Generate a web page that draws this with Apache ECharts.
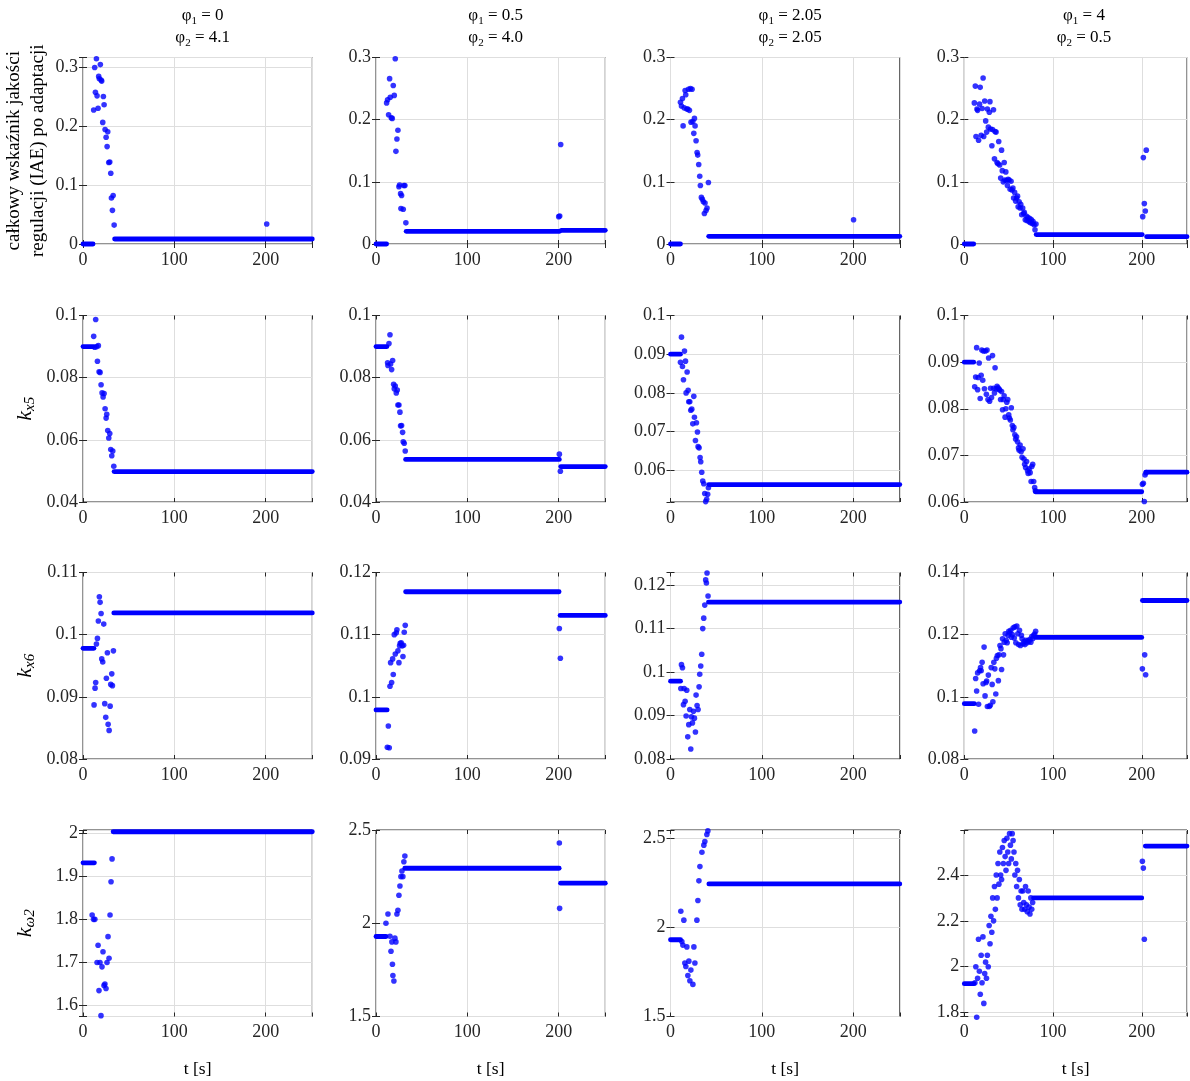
<!DOCTYPE html>
<html><head><meta charset="utf-8">
<script src="https://cdn.jsdelivr.net/npm/echarts@6/dist/echarts.min.js"></script>
<style>html,body{margin:0;padding:0;background:#fff}#c{width:1190px;height:1081px}</style>
</head><body><div id="c"></div><script>
// ---------- column parameters ----------
const phi1 = ['0', '0.5', '2.05', '4'];
const phi2 = ['4.1', '4.0', '2.05', '0.5'];
const xRange = [0, 251, 100];   // min, max, tick step
const xTicks = [0, 100, 200];

// ---------- y ranges [min, max, tick step] ----------
const yIAE = [[0, 0.316, 0.1], [0, 0.3, 0.1], [0, 0.3, 0.1], [0, 0.3, 0.1]];
const yKx5 = [[0.04, 0.1, 0.02], [0.04, 0.1, 0.02], [0.0518, 0.1, 0.01], [0.06, 0.1, 0.01]];
const yKx6 = [[0.08, 0.11, 0.01], [0.09, 0.12, 0.01], [0.08, 0.1229, 0.01], [0.08, 0.14, 0.02]];
const yKw2 = [[1.575, 2.007, 0.1], [1.5, 2.5, 0.5], [1.5, 2.545, 0.5], [1.783, 2.596, 0.2]];

// ---------- IAE: scattered points [t, value] and constant runs [t0, t1, value] ----------
const iae1 = [[11.7,0.227],[12.8,0.299],[13.6,0.257],[14.7,0.314],[15.4,0.251],[16.5,0.230],[17.2,0.284],[17.9,0.280],[19.0,0.304],[19.8,0.278],[20.5,0.276],[21.6,0.206],[22.3,0.250],[23.1,0.236],[24.2,0.194],[25.3,0.181],[26.4,0.165],[27.1,0.190],[28.2,0.138],[29.3,0.139],[30.4,0.120],[31.1,0.078],[32.2,0.057],[33.0,0.082],[34.1,0.032],[201.1,0.034]];
const iae1Flat = [[0,11,0],[34.6,251,0.0085]];
const iae2 = [[11.6,0.227],[12.7,0.232],[13.8,0.208],[14.9,0.266],[15.6,0.236],[16.7,0.203],[17.8,0.202],[18.9,0.255],[20.0,0.239],[21.1,0.298],[21.8,0.149],[22.9,0.169],[24.0,0.183],[25.1,0.092],[25.8,0.095],[26.9,0.081],[27.3,0.057],[28.0,0.078],[29.8,0.056],[30.5,0.094],[31.6,0.094],[32.7,0.034],[200.0,0.044],[201.1,0.045],[202.2,0.160]];
const iae2Flat = [[0,11.6,0],[33,201,0.0204],[202.9,251,0.022]];
const iae3 = [[10.9,0.228],[12.0,0.222],[13.1,0.234],[13.8,0.190],[14.9,0.219],[16.0,0.247],[16.7,0.240],[17.8,0.217],[18.9,0.217],[19.6,0.249],[20.7,0.215],[21.8,0.250],[22.5,0.196],[23.6,0.249],[24.4,0.197],[25.5,0.178],[26.2,0.202],[26.9,0.190],[28.0,0.166],[29.1,0.147],[29.8,0.143],[30.9,0.128],[32.0,0.109],[32.7,0.094],[33.8,0.075],[34.9,0.072],[36.0,0.068],[37.1,0.049],[37.8,0.066],[38.9,0.054],[40.0,0.058],[41.5,0.099],[200.4,0.039]];
const iae3Flat = [[0,10.9,0],[41.8,251,0.0124]];
const iae4 = [[11.3,0.227],[12.4,0.254],[13.2,0.173],[14.3,0.217],[15.0,0.215],[16.1,0.167],[17.2,0.225],[17.9,0.252],[19.0,0.175],[20.1,0.218],[21.2,0.267],[21.9,0.173],[23.0,0.230],[24.1,0.198],[25.2,0.180],[26.0,0.217],[27.1,0.188],[28.2,0.212],[28.9,0.229],[29.6,0.185],[31.1,0.158],[31.8,0.184],[32.9,0.216],[34.0,0.137],[34.7,0.181],[35.8,0.180],[36.9,0.131],[38.0,0.129],[38.8,0.165],[39.9,0.127],[41.0,0.106],[42.0,0.151],[42.8,0.118],[43.9,0.100],[45.0,0.131],[45.7,0.103],[46.8,0.116],[47.5,0.102],[48.6,0.094],[49.4,0.104],[50.5,0.103],[51.6,0.088],[52.7,0.101],[53.7,0.087],[54.8,0.090],[55.6,0.074],[56.7,0.083],[57.8,0.069],[58.9,0.074],[60.0,0.077],[60.7,0.060],[61.8,0.068],[62.9,0.058],[63.6,0.064],[64.7,0.047],[65.8,0.058],[66.9,0.049],[67.6,0.051],[68.7,0.039],[69.8,0.045],[70.6,0.038],[71.7,0.043],[72.8,0.036],[73.9,0.041],[74.6,0.034],[75.7,0.039],[76.8,0.033],[77.5,0.036],[78.6,0.031],[79.7,0.023],[80.8,0.032],[201.1,0.044],[201.8,0.139],[202.9,0.065],[204.0,0.053],[205.1,0.151]];
const iae4Flat = [[0,10.6,0],[81,200.5,0.0151],[205.5,251,0.0118]];

// ---------- k_x5 ----------
const kx5_1 = [[11.7,0.0933],[12.8,0.0898],[13.9,0.0987],[15.0,0.0900],[15.8,0.0853],[16.8,0.0903],[17.6,0.0819],[18.7,0.0817],[19.8,0.0777],[20.9,0.0751],[22.0,0.0738],[23.1,0.0749],[24.2,0.0700],[25.3,0.0670],[26.0,0.0682],[27.1,0.0630],[28.2,0.0606],[29.3,0.0620],[30.4,0.0569],[31.5,0.0549],[32.6,0.0564],[33.7,0.0515]];
const kx5_1Flat = [[0,11.3,0.0900],[34,251,0.0498]];
const kx5_2 = [[12.7,0.0848],[13.1,0.0839],[14.2,0.0910],[15.3,0.0938],[16.0,0.0844],[17.1,0.0826],[18.2,0.0855],[19.3,0.0779],[20.0,0.0764],[21.1,0.0773],[22.2,0.0751],[23.3,0.0760],[24.0,0.0712],[25.1,0.0712],[26.2,0.0689],[26.9,0.0645],[28.0,0.0646],[29.1,0.0624],[29.8,0.0594],[30.9,0.0589],[32.0,0.0564],[200.7,0.0554],[201.8,0.0499]];
const kx5_2Flat = [[0,12,0.0900],[32.4,200.7,0.0537],[202.2,251,0.0514]];
const kx5_3 = [[10.9,0.0879],[12.0,0.0944],[13.1,0.0868],[14.2,0.0834],[15.3,0.0908],[16.4,0.0882],[17.1,0.0800],[18.2,0.0854],[19.3,0.0807],[20.0,0.0777],[21.1,0.0777],[22.2,0.0755],[23.3,0.0758],[24.4,0.0720],[25.5,0.0791],[26.2,0.0737],[27.3,0.0677],[28.4,0.0723],[29.5,0.0699],[30.2,0.0661],[31.3,0.0658],[32.4,0.0633],[33.1,0.0622],[34.2,0.0595],[35.3,0.0572],[36.4,0.0565],[37.5,0.0540],[38.5,0.0519],[39.6,0.0525],[40.7,0.0538],[41.5,0.0555]];
const kx5_3Flat = [[0,10.9,0.0900],[41.8,251,0.0563]];
const kx5_4 = [[11.7,0.0847],[12.8,0.0868],[13.9,0.0931],[15.0,0.0841],[15.7,0.0867],[16.8,0.0898],[17.9,0.0822],[19.0,0.0872],[19.7,0.0926],[20.8,0.0861],[21.6,0.0924],[22.7,0.0843],[23.8,0.0924],[24.9,0.0831],[25.6,0.0926],[26.7,0.0820],[27.4,0.0909],[28.5,0.0816],[29.6,0.0844],[30.7,0.0824],[31.8,0.0914],[32.9,0.0844],[34.0,0.0834],[34.7,0.0888],[35.8,0.0843],[36.9,0.0848],[38.0,0.0845],[39.1,0.0842],[39.9,0.0840],[40.9,0.0820],[42.0,0.0837],[43.1,0.0798],[43.8,0.0820],[44.9,0.0828],[46.0,0.0782],[46.8,0.0800],[47.9,0.0814],[49.0,0.0820],[50.1,0.0787],[50.8,0.0780],[51.9,0.0776],[53.0,0.0802],[54.1,0.0764],[54.8,0.0755],[55.9,0.0760],[57.0,0.0744],[57.8,0.0735],[58.9,0.0740],[60.0,0.0729],[61.1,0.0716],[61.8,0.0711],[62.9,0.0722],[64.0,0.0708],[65.1,0.0696],[66.2,0.0714],[67.3,0.0692],[68.0,0.0681],[69.1,0.0674],[70.2,0.0687],[71.3,0.0667],[72.0,0.0661],[73.1,0.0671],[74.2,0.0663],[75.3,0.0644],[76.1,0.0676],[77.1,0.0681],[78.2,0.0644],[79.3,0.0631],[80.1,0.0624],[200.7,0.0638],[201.8,0.0640],[202.9,0.0601],[203.7,0.0658],[204.8,0.0663]];
const kx5_4Flat = [[0,10.6,0.0900],[80.1,200,0.0622],[204.8,251,0.0664]];

// ---------- k_x6 ----------
const kx6_1 = [[12.1,0.0887],[13.2,0.0914],[13.9,0.0923],[14.7,0.0985],[15.8,0.0994],[16.8,0.1022],[17.9,0.1061],[18.7,0.1052],[19.8,0.1034],[20.5,0.0961],[21.6,0.0956],[22.7,0.1017],[23.8,0.0889],[24.9,0.0867],[25.6,0.0930],[26.7,0.0971],[27.5,0.0856],[28.6,0.0846],[29.7,0.0885],[30.4,0.0920],[31.5,0.0937],[32.2,0.0918],[33.3,0.0974]];
const kx6_1Flat = [[0,12,0.0978],[33.7,251,0.1035]];
const kx6_2 = [[12.4,0.0919],[13.5,0.0953],[14.5,0.0918],[15.3,0.1017],[16.0,0.1055],[17.1,0.1023],[18.2,0.1061],[18.9,0.1036],[20.0,0.1100],[21.1,0.1069],[22.2,0.1103],[22.9,0.1108],[24.0,0.1074],[25.1,0.1055],[25.8,0.1082],[26.5,0.1086],[27.6,0.1087],[28.7,0.1082],[29.5,0.1065],[30.2,0.1083],[30.9,0.1104],[32.0,0.1115],[200.7,0.1110],[201.8,0.1062]];
const kx6_2Flat = [[0,12.2,0.0979],[32.4,200.4,0.1169],[201.5,251,0.1131]];
const kx6_3 = [[11.3,0.0962],[12.0,0.1017],[13.1,0.1010],[14.2,0.0925],[14.9,0.0962],[16.0,0.0933],[17.1,0.0899],[17.8,0.0958],[18.9,0.0851],[20.0,0.0879],[21.1,0.0914],[22.2,0.0823],[22.9,0.0897],[24.0,0.0883],[25.1,0.0910],[26.2,0.0894],[27.3,0.0862],[28.0,0.0947],[29.1,0.0923],[30.2,0.0914],[31.3,0.0966],[32.0,0.0995],[33.1,0.1014],[34.2,0.1041],[35.3,0.1100],[36.4,0.1124],[37.5,0.1154],[38.5,0.1212],[39.3,0.1205],[40.0,0.1228],[41.1,0.1175]];
const kx6_3Flat = [[0,11,0.0979],[41.5,251,0.1161]];
const kx6_4 = [[11.7,0.0890],[12.8,0.1059],[13.9,0.1019],[15.0,0.1077],[16.1,0.0976],[17.2,0.1084],[18.3,0.1094],[19.0,0.1084],[20.1,0.1111],[21.2,0.1042],[22.3,0.1160],[23.4,0.1003],[24.5,0.1046],[25.2,0.1051],[26.0,0.0969],[27.1,0.1070],[28.2,0.0969],[29.3,0.0973],[30.3,0.1094],[31.4,0.1040],[32.2,0.0984],[33.3,0.1111],[34.4,0.1090],[35.5,0.1009],[36.2,0.1124],[37.3,0.1133],[38.4,0.1052],[39.1,0.1135],[40.2,0.1165],[41.3,0.1155],[42.0,0.1088],[43.1,0.1187],[44.2,0.1135],[45.0,0.1176],[46.1,0.1203],[47.2,0.1182],[48.3,0.1174],[49.4,0.1198],[50.1,0.1211],[51.2,0.1206],[52.3,0.1214],[53.0,0.1192],[54.1,0.1200],[55.2,0.1222],[56.3,0.1189],[57.0,0.1225],[58.1,0.1174],[59.2,0.1228],[60.3,0.1203],[61.1,0.1168],[62.2,0.1214],[63.3,0.1165],[64.3,0.1198],[65.1,0.1187],[66.2,0.1171],[67.3,0.1178],[68.4,0.1168],[69.5,0.1182],[70.6,0.1174],[71.7,0.1181],[72.8,0.1178],[73.9,0.1185],[75.0,0.1176],[76.1,0.1194],[77.1,0.1187],[78.2,0.1198],[79.3,0.1202],[80.4,0.1211],[200.7,0.1090],[203.3,0.1135],[204.4,0.1071]];
const kx6_4Flat = [[0,11.3,0.0978],[80.4,200,0.1191],[200.7,251,0.1310]];

// ---------- k_omega2 ----------
const kw2_1 = [[10,1.81],[11.5,1.80],[13,1.80],[15.4,1.70],[16.5,1.74],[17.5,1.635],[18.6,1.70],[19.7,1.577],[20.8,1.69],[21.9,1.725],[23,1.647],[24,1.65],[25.2,1.64],[26.3,1.70],[27.4,1.76],[28.5,1.71],[29.6,1.81],[30.7,1.887],[31.8,1.94]];
const kw2_1Flat = [[0,12.5,1.931],[33,251,2.003]];
const kw2_2 = [[10.9,2.0],[13.1,2.05],[15.3,1.93],[16.4,1.85],[17.4,1.90],[18,1.78],[18.5,1.72],[19.6,1.69],[20.7,1.92],[21.8,1.90],[22.9,2.05],[24,2.07],[25.1,2.15],[26.2,2.20],[27.3,2.25],[28.4,2.28],[29.4,2.25],[30.5,2.33],[31.6,2.36],[200.7,2.43],[201,2.08]];
const kw2_2Flat = [[0,11,1.929],[31.5,200.5,2.295],[202,251,2.215]];
const kw2_3 = [[11.3,2.09],[12.4,1.92],[13.5,1.90],[14.6,2.04],[15.7,1.80],[16.8,1.78],[17.9,1.89],[19.0,1.73],[20.1,1.81],[21.2,1.70],[22.3,1.76],[24.5,1.68],[25.6,1.89],[26.7,1.80],[28.9,2.04],[30.0,2.15],[31.1,2.26],[32.2,2.34],[34.4,2.42],[36.5,2.46],[37.6,2.48],[39.8,2.52],[40.9,2.54]];
const kw2_3Flat = [[0,11,1.93],[42,251,2.243]];
const kw2_4 = [[12,1.93],[13,2.0],[14,1.78],[15,1.95],[16,2.12],[17,1.98],[18,1.88],[19,2.05],[20,1.93],[21,2.13],[22,1.84],[23,1.97],[24,2.02],[25,1.95],[26,2.05],[27,2.0],[28,2.18],[29,2.1],[30,2.22],[31,2.15],[32,2.3],[33,2.2],[34,2.35],[35,2.25],[36,2.4],[37,2.3],[38,2.45],[39,2.36],[40,2.5],[41,2.4],[42,2.38],[43,2.52],[44,2.45],[45,2.55],[46,2.48],[47,2.42],[48,2.56],[49,2.5],[50,2.45],[51,2.58],[52,2.53],[53,2.47],[54,2.58],[55,2.55],[56,2.5],[57,2.4],[58,2.45],[59,2.35],[60,2.42],[61,2.3],[62,2.38],[63,2.27],[64,2.33],[65,2.25],[66,2.33],[67,2.28],[68,2.25],[69,2.35],[70,2.27],[71,2.24],[72,2.33],[73,2.26],[74,2.23],[75,2.3],[76,2.25],[77,2.28],[200.7,2.46],[201.8,2.43],[202.9,2.12]];
const kw2_4Flat = [[0,11,1.926],[78,200,2.30],[204,251,2.526]];

// ---------- assemble ----------
const rowPts = [[iae1, iae2, iae3, iae4], [kx5_1, kx5_2, kx5_3, kx5_4], [kx6_1, kx6_2, kx6_3, kx6_4], [kw2_1, kw2_2, kw2_3, kw2_4]];
const rowFlat = [[iae1Flat, iae2Flat, iae3Flat, iae4Flat], [kx5_1Flat, kx5_2Flat, kx5_3Flat, kx5_4Flat], [kx6_1Flat, kx6_2Flat, kx6_3Flat, kx6_4Flat], [kw2_1Flat, kw2_2Flat, kw2_3Flat, kw2_4Flat]];
const rowY = [yIAE, yKx5, yKx6, yKw2];
const yNames = [
  'całkowy wskaźnik jakości\nregulacji (IAE) po adaptacji',
  '{k|k}{s|x5}',
  '{k|k}{s|x6}',
  '{k|k}{s|ω2}'
];

const FONT = '"Liberation Serif","Times New Roman",serif';
const BLUE = '#0000ff';
const AX = '#262626';
const GRIDC = '#dedede';
const colLeft = [83, 376, 670.5, 964.3];
const rowTop = [57.5, 315.5, 572.5, 830];
const W = 229.3, H = 186.5;

function isMult(v, s) { const r = v / s; return Math.abs(r - Math.round(r)) < 1e-6; }
function fmt(v) { return String(parseFloat(v.toFixed(6))); }

const grid = [], xAxis = [], yAxis = [], series = [], title = [];
for (let r = 0; r < 4; r++) {
  for (let c = 0; c < 4; c++) {
    const i = r * 4 + c;
    grid.push({ left: colLeft[c], top: rowTop[r], width: W, height: H, show: true,
      borderColor: AX, borderWidth: 1, backgroundColor: 'rgba(0,0,0,0)' });
    const tick = { show: true, inside: true, length: 4, lineStyle: { color: AX, width: 1 } };
    xAxis.push({ gridIndex: i, type: 'value', position: 'bottom', min: xRange[0], max: xRange[1], interval: xRange[2],
      axisLine: { show: false }, axisTick: tick,
      axisLabel: { fontFamily: FONT, fontSize: 18, color: AX, margin: 7,
        formatter: v => (xTicks.some(t => Math.abs(t - v) < 1e-9) ? fmt(v) : '') },
      splitLine: { show: true, lineStyle: { color: GRIDC, width: 1 } },
      name: r === 3 ? 't [s]' : '', nameLocation: 'middle', nameGap: 44,
      nameTextStyle: { fontFamily: FONT, fontSize: 17.5, color: '#000' } });
    xAxis.push({ gridIndex: i, type: 'value', position: 'top', min: xRange[0], max: xRange[1], interval: xRange[2],
      axisLine: { show: false }, axisTick: tick, axisLabel: { show: false }, splitLine: { show: false } });
    const [ymin, ymax, ystep] = rowY[r][c];
    const yBase = { gridIndex: i, type: 'value', min: ymin, max: ymax };
    if (isMult(ymin, ystep)) yBase.interval = ystep; else yBase.splitNumber = Math.round((ymax - ymin) / ystep);
    const yl = Object.assign({}, yBase, { position: 'left',
      axisLine: { show: false }, axisTick: tick,
      axisLabel: { fontFamily: FONT, fontSize: 18, color: AX, margin: 5,
        formatter: v => (isMult(v, ystep) ? fmt(v) : '') },
      splitLine: { show: true, lineStyle: { color: GRIDC, width: 1 } } });
    if (c === 0) {
      yl.name = yNames[r];
      yl.nameLocation = 'middle';
      yl.nameRotate = 90;
      if (r === 0) {
        yl.nameGap = 33;
        yl.nameTextStyle = { fontFamily: FONT, fontSize: 19, color: '#000', lineHeight: 24 };
      } else {
        yl.nameGap = 45;
        yl.nameTextStyle = { rich: {
          k: { fontFamily: FONT, fontStyle: 'italic', fontSize: 22, color: '#000', lineHeight: 26 },
          s: { fontFamily: FONT, fontStyle: 'italic', fontSize: 15, color: '#000', lineHeight: 16, verticalAlign: 'bottom' } } };
      }
    }
    yAxis.push(yl);
    yAxis.push(Object.assign({}, yBase, { position: 'right', axisLine: { show: false }, axisTick: tick,
      axisLabel: { show: false }, splitLine: { show: false } }));

    series.push({ type: 'scatter', xAxisIndex: 2 * i, yAxisIndex: 2 * i, data: rowPts[r][c],
      symbol: 'circle', symbolSize: 5.6, itemStyle: { color: BLUE }, clip: false, silent: true, z: 3 });
    rowFlat[r][c].forEach(f => {
      series.push({ type: 'line', xAxisIndex: 2 * i, yAxisIndex: 2 * i, data: [[f[0], f[2]], [f[1], f[2]]],
        symbol: 'none', lineStyle: { color: BLUE, width: 4.8, cap: 'round' }, clip: false, silent: true, z: 3 });
    });
  }
}
for (let c = 0; c < 4; c++) {
  title.push({ left: colLeft[c] + W / 2, top: 0, textAlign: 'center',
    text: '{p|φ}{s|1}{p| = ' + phi1[c] + '}\n{p|φ}{s|2}{p| = ' + phi2[c] + '}',
    textStyle: { fontWeight: 'normal', rich: {
      p: { fontFamily: FONT, fontSize: 17, fontWeight: 'normal', color: '#000', lineHeight: 22 },
      s: { fontFamily: FONT, fontSize: 11, fontWeight: 'normal', color: '#000', lineHeight: 13, verticalAlign: 'bottom' } } } });
}

const chart = echarts.init(document.getElementById('c'), null, { renderer: 'canvas' });
chart.setOption({ animation: false, backgroundColor: '#fff', title, grid, xAxis, yAxis, series });
</script></body></html>
